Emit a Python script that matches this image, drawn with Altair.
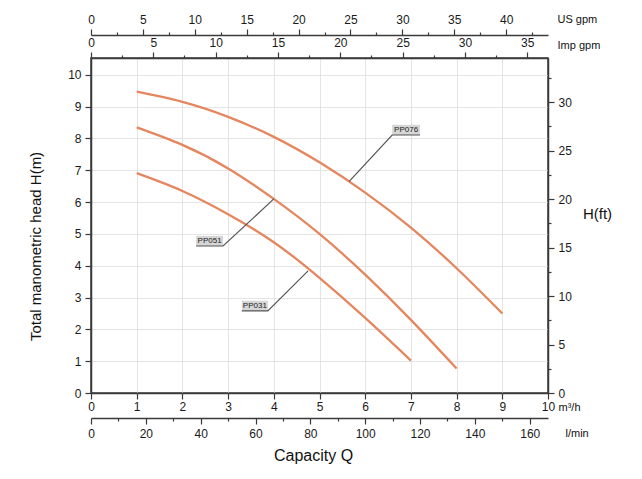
import altair as alt
import pandas as pd

# ---- pump curves (Q in m3/h, H in m) ----
q_pp076 = [1, 2, 3, 4, 5, 6, 7, 8, 9]
h_pp076 = [9.47, 9.15, 8.68, 8.05, 7.25, 6.30, 5.20, 3.92, 2.50]
q_pp051 = [1, 2, 3, 4, 5, 6, 7, 8]
h_pp051 = [8.35, 7.80, 7.06, 6.10, 5.00, 3.72, 2.30, 0.77]
q_pp031 = [1, 2, 3, 4, 5, 6, 7]
h_pp031 = [6.91, 6.35, 5.62, 4.74, 3.62, 2.36, 1.02]

# ---- labels (boxes + leader lines) ----
label_names = ["PP076", "PP051", "PP031"]
label_q_left = [6.59, 2.30, 3.30]
label_q_right = [7.20, 2.89, 3.87]
label_h_bottom = [8.11, 4.62, 2.58]
label_h_top = [8.43, 4.94, 2.90]
pointer_q = [5.65, 4.00, 4.75]
pointer_h = [6.65, 6.10, 3.84]
leader_side = ["left", "right", "right"]

# ---- axis ticks ----
m3h_ticks = [i * 0.5 for i in range(21)]
head_ticks = [i * 0.5 for i in range(22)]
ft_ticks = [i * 2.5 for i in range(14)]
lmin_ticks = [i * 10 for i in range(17)]
usgpm_ticks = [i * 2.5 for i in range(18)]
impgpm_ticks = [i * 2.5 for i in range(15)]

Q_MAX = 10.0
H_MAX = 10.53
LMIN_MAX = Q_MAX * 1000 / 60
FT_MAX = H_MAX * 3.28084
USGPM_MAX = Q_MAX * 4.40287
IMPGPM_MAX = Q_MAX * 3.66615

FONT = "Liberation Sans"

rows = []
for name, qs, hs in [("PP076", q_pp076, h_pp076), ("PP051", q_pp051, h_pp051), ("PP031", q_pp031, h_pp031)]:
    for q, h in zip(qs, hs):
        rows.append({"model": name, "q": q, "h": h})
curves_df = pd.DataFrame(rows)

lead_rows, box_rows = [], []
for i, name in enumerate(label_names):
    if leader_side[i] == "left":
        corner, far = label_q_left[i], label_q_right[i]
    else:
        corner, far = label_q_right[i], label_q_left[i]
    lead_rows.append({"model": name, "o": 0, "q": pointer_q[i], "h": pointer_h[i]})
    lead_rows.append({"model": name, "o": 1, "q": corner, "h": label_h_bottom[i]})
    lead_rows.append({"model": name, "o": 2, "q": far, "h": label_h_bottom[i]})
    box_rows.append({"model": name, "q": label_q_left[i], "q2": label_q_right[i],
                     "h": label_h_bottom[i], "h2": label_h_top[i],
                     "qc": (label_q_left[i] + label_q_right[i]) / 2,
                     "hc": (label_h_bottom[i] + label_h_top[i]) / 2})
lead_df = pd.DataFrame(lead_rows)
box_df = pd.DataFrame(box_rows)


def minor_size(test, major, minor):
    return {"condition": {"test": test, "value": major}, "value": minor}


x_main_axis = alt.Axis(
    orient="bottom", values=m3h_ticks, format="d",
    labelExpr="datum.value % 1 === 0 ? datum.label : ''",
    tickSize=minor_size("datum.value % 1 === 0", 6, 3),
    grid=True, gridColor="#dedede", gridWidth=0.8,
    labelPadding=2, labelFlush=False, labelOverlap=False,
    title="m³/h", titleX=467, titleY=14, titleAlign="left", titleBaseline="middle",
    titleAngle=0, titleFontSize=11,
)
y_main_axis = alt.Axis(
    orient="left", values=head_ticks, format="d",
    labelExpr="datum.value % 1 === 0 ? datum.label : ''",
    tickSize=minor_size("datum.value % 1 === 0", 6, 3),
    grid=True, gridColor="#dedede", gridWidth=0.8,
    labelPadding=4, labelFlush=False, labelOverlap=False,
    title="Total manometric head H(m)", titleX=-56, titleY=188,
    titleAngle=-90, titleAlign="center", titleBaseline="middle", titleFontSize=15,
)
x_scale = alt.Scale(domain=[0, Q_MAX], nice=False, zero=False)
y_scale = alt.Scale(domain=[0, H_MAX], nice=False, zero=False)
x_main = alt.X("q:Q", scale=x_scale, axis=x_main_axis)
y_main = alt.Y("h:Q", scale=y_scale, axis=y_main_axis)

curves = alt.Chart(curves_df).mark_line(
    color="#e5865f", strokeWidth=2.3, interpolate="natural"
).encode(x=x_main, y=y_main, detail="model:N")

leaders = alt.Chart(lead_df).mark_line(color="#555555", strokeWidth=1.2).encode(
    x=x_main, y=y_main, detail="model:N", order="o:Q")

boxes = alt.Chart(box_df).mark_rect(color="#d6d6d6").encode(
    x=x_main, x2="q2:Q", y=y_main, y2="h2:Q")

texts = alt.Chart(box_df).mark_text(
    font=FONT, fontSize=8, color="#222222"
).encode(x=alt.X("qc:Q", scale=x_scale, axis=x_main_axis),
         y=alt.Y("hc:Q", scale=y_scale, axis=y_main_axis),
         text="model:N")

main = alt.layer(curves, boxes, leaders, texts)

dummy = pd.DataFrame({"v": [0]})

# l/min (bottom, offset) and H(ft) (right)
lmin_ft = alt.Chart(dummy).mark_point(opacity=0).encode(
    x=alt.X("v:Q", scale=alt.Scale(domain=[0, LMIN_MAX], nice=False, zero=False),
            axis=alt.Axis(orient="bottom", offset=25, values=lmin_ticks, format="d",
                          labelExpr="datum.value % 20 === 0 ? datum.label : ''",
                          tickSize=minor_size("datum.value % 20 === 0", 6, 3),
                          grid=False, labelPadding=4, labelFlush=False, labelOverlap=False,
                          title="l/min", titleX=474, titleY=15, titleAlign="left",
                          titleBaseline="middle", titleFontSize=11)),
    y=alt.Y("v:Q", scale=alt.Scale(domain=[0, FT_MAX], nice=False, zero=False),
            axis=alt.Axis(orient="right", values=ft_ticks, format="d",
                          labelExpr="datum.value % 5 === 0 ? datum.label : ''",
                          tickSize=minor_size("datum.value % 5 === 0", 6, 3),
                          grid=False, labelPadding=4, labelFlush=False, labelOverlap=False,
                          title="H(ft)", titleX=49, titleY=155, titleAngle=0,
                          titleAlign="center", titleBaseline="middle", titleFontSize=15)),
)

usgpm = alt.Chart(dummy).mark_point(opacity=0).encode(
    x=alt.X("v:Q", scale=alt.Scale(domain=[0, USGPM_MAX], nice=False, zero=False),
            axis=alt.Axis(orient="top", offset=23, values=usgpm_ticks, format="d",
                          labelExpr="datum.value % 5 === 0 ? datum.label : ''",
                          tickSize=minor_size("datum.value % 5 === 0", 6, 3),
                          grid=False, labelPadding=3, labelFlush=False, labelOverlap=False,
                          title="US gpm", titleX=466, titleY=-16, titleAlign="left",
                          titleBaseline="middle", titleFontSize=11)),
)

impgpm = alt.Chart(dummy).mark_point(opacity=0).encode(
    x=alt.X("v:Q", scale=alt.Scale(domain=[0, IMPGPM_MAX], nice=False, zero=False),
            axis=alt.Axis(orient="top", offset=0, values=impgpm_ticks, format="d",
                          labelExpr="datum.value % 5 === 0 ? datum.label : ''",
                          tickSize=minor_size("datum.value % 5 === 0", 6, 3),
                          grid=False, labelPadding=3, labelFlush=False, labelOverlap=False,
                          title="Imp gpm", titleX=466, titleY=-13, titleAlign="left",
                          titleBaseline="middle", titleFontSize=11)),
)

capacity = alt.Chart(dummy).mark_point(opacity=0).encode(
    x=alt.X("v:Q", scale=alt.Scale(domain=[0, 1], nice=False, zero=False),
            axis=alt.Axis(orient="bottom", offset=25, domain=False, ticks=False, labels=False,
                          grid=False, title="Capacity Q", titleX=222, titleY=37,
                          titleAlign="center", titleBaseline="middle", titleFontSize=16)),
)

chart = alt.layer(main, lmin_ft, usgpm, impgpm, capacity).resolve_scale(
    x="independent", y="independent"
).properties(
    width=457, height=335,
    padding={"left": 91, "top": 58, "right": 94, "bottom": 86},
    autosize=alt.AutoSizeParams(type="none"),
    background="white",
).configure_view(
    stroke="#3a3a3a", strokeWidth=1.5
).configure_axis(
    domainColor="#3a3a3a", domainWidth=1.5, tickColor="#3a3a3a", tickWidth=1.2,
    labelFont=FONT, labelFontSize=12, labelColor="#1a1a1a",
    titleFont=FONT, titleFontWeight="normal", titleColor="#111111",
)

chart.save("out.html", embed_options={"renderer": "svg", "actions": False})
